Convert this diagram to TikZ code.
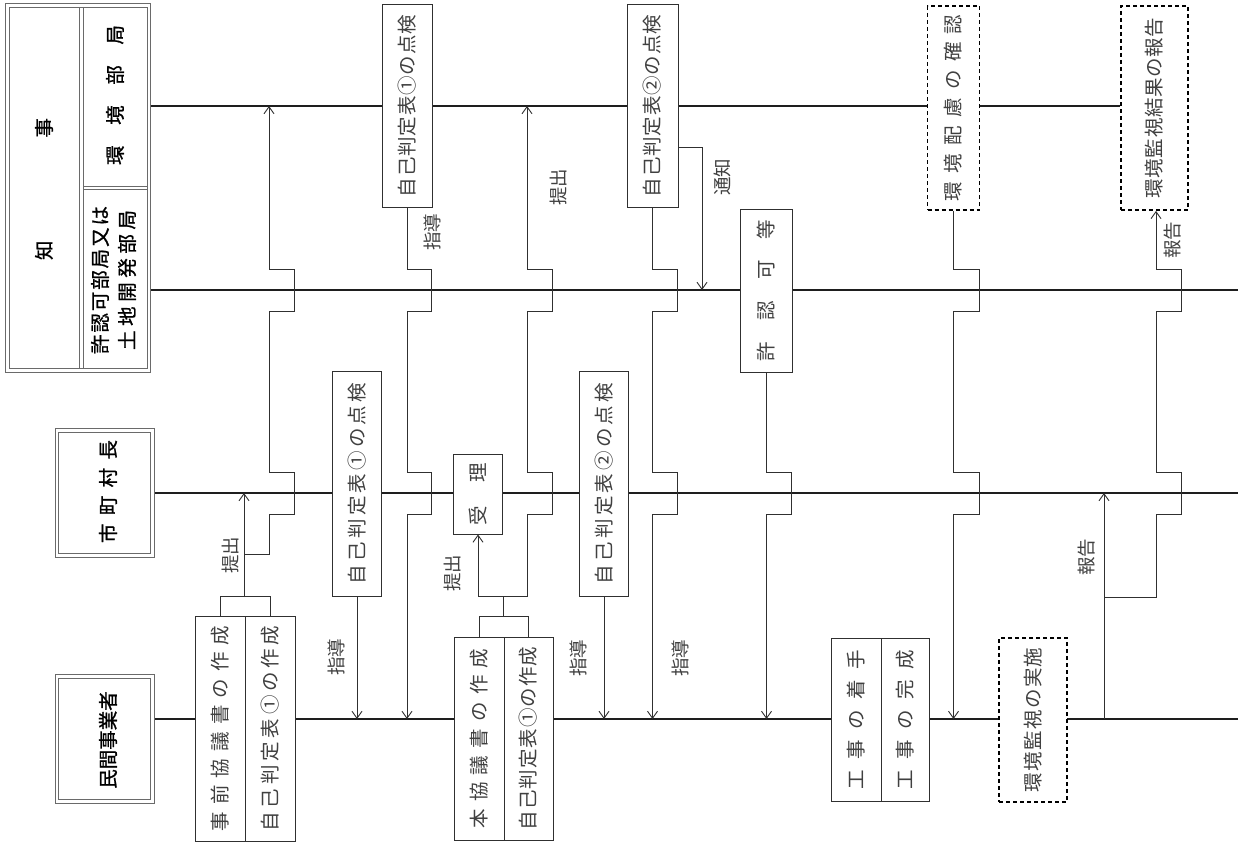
\documentclass[tikz,border=0pt]{standalone}
\usepackage{fontspec}
\usepackage{graphicx}
\setmainfont{Noto Sans CJK JP}
\newfontfamily\hdrfont[FakeBold=1]{Noto Sans CJK JP}
\usetikzlibrary{arrows.meta,backgrounds}
\definecolor{ln}{HTML}{1E1E1E}
\definecolor{cn}{HTML}{303030}
\definecolor{tx}{HTML}{404040}
\definecolor{fr}{HTML}{6A6A6A}
\def\spA#1{\ifx#1\relax\else\hfill#1\expandafter\spA\fi}
\def\spB#1{#1\spA}
\newcommand\spread[2]{\makebox[#1]{\spB#2\relax}}
\newcommand\vt[2]{\rotatebox{90}{\spread{#1}{#2}}}
\begin{document}
\begin{tikzpicture}[x=1pt,y=-1pt,
  lane/.style={draw=ln,line width=1.7pt},
  conn/.style={draw=cn,line width=0.9pt},
  arr/.style={conn,-{Straight Barb[length=7pt,width=10pt]}},
  box/.style={draw=cn,line width=1pt,fill=white,inner sep=0pt,
    font=\fontsize{19.5}{19.5}\selectfont,text=tx},
  dbox/.style={box,draw=black,line width=1.8pt,dash pattern=on 4pt off 3pt},
  hbox/.style={draw=fr,line width=0.8pt,fill=white,inner sep=0pt},
  htxt/.style={inner sep=0pt,font=\hdrfont\fontsize{19.5}{19.5}\selectfont},
  frame/.style={draw=fr,line width=0.8pt},
  lbl/.style={inner sep=0pt,font=\fontsize{18.5}{18.5}\selectfont,text=tx,rotate=90},
]
\useasboundingbox (0,0) rectangle (1238,843);

% ---- header: 知事 ----
\draw[frame] (5,3) rectangle (150,372);
\draw[frame] (9,7) rectangle (147,368);
\draw[frame] (79,7) -- (79,368);
\draw[frame] (83,7) -- (83,368);
\draw[frame] (83,186) -- (147,186);
\draw[frame] (83,189.5) -- (147,189.5);
\node[htxt] (chiji) at (44,189) {\vt{142pt}{知事}};
\node[htxt] (kankyo) at (115,95) {\vt{140pt}{環境部局}};
\node[htxt] (kyoninka) at (113.5,280) {\rotatebox{90}{\vbox{\baselineskip=27pt
  \hbox{\spread{148pt}{許認可部局又は}}\hbox to 148pt{\hfil\spread{140pt}{土地開発部局}\hfil}}}};

% ---- header: 市町村長 / 民間事業者 (double frames) ----
\node[hbox,minimum width=99pt,minimum height=129pt] (shi) at (104.5,492.5) {};
\node[hbox,minimum width=92pt,minimum height=121pt] (shiIn) at (104.5,492.5) {};
\node[htxt] (shiT) at (108,491.5) {\vt{103pt}{市町村長}};
\node[hbox,minimum width=99pt,minimum height=129pt] (min) at (104.5,738.5) {};
\node[hbox,minimum width=92pt,minimum height=121pt] (minIn) at (104.5,738.5) {};
\node[htxt] (minT) at (108,740) {\rotatebox{90}{民間事業者}};

\coordinate (k1) at (150,106);
\coordinate (k2) at (150,290);
\coordinate (k3) at (154,493);
\coordinate (k4) at (154,719);
\coordinate (R) at (1238,0);
\coordinate (L3) at (0,493);
\coordinate (L4) at (0,719);

% ---- lane 1 (環境部局) ----
\node[box,minimum width=50pt,minimum height=202pt] (A1) at (407,106) {\vt{182pt}{自己判定表①の点検}};
\node[box,minimum width=51pt,minimum height=202pt] (B1) at (652.5,106) {\vt{182pt}{自己判定表②の点検}};
\node[dbox,minimum width=52pt,minimum height=204pt] (C1) at (953.5,108) {\vt{187pt}{環境配慮の確認}};
\node[dbox,minimum width=67pt,minimum height=204pt] (D1) at (1154.5,108) {\vt{181pt}{環境監視結果の報告}};

% ---- lane 2 (許認可部局) ----
\node[box,minimum width=52pt,minimum height=163pt] (P2) at (766.5,290.5) {\vt{142pt}{許認可等}};

% ---- lane 3 (市町村長) ----
\node[box,minimum width=49pt,minimum height=225pt] (A3) at (357,483.5) {\vt{201pt}{自己判定表①の点検}};
\node[box,minimum width=49pt,minimum height=80pt] (R3) at (478,494) {\vt{62pt}{受理}};
\node[box,minimum width=49pt,minimum height=225pt] (B3) at (604,483.5) {\vt{201pt}{自己判定表②の点検}};

% ---- lane 4 (民間事業者) ----
\node[box,minimum width=50pt,minimum height=225pt] (S4a) at (220,728.5) {\vt{206pt}{事前協議書の作成}};
\node[box,minimum width=50pt,minimum height=225pt] (S4b) at (270,728.5) {\vt{206pt}{自己判定表①の作成}};
\node[box,minimum width=50pt,minimum height=203pt] (H4a) at (479,738.5) {\vt{180pt}{本協議書の作成}};
\node[box,minimum width=49pt,minimum height=203pt] (H4b) at (528.5,738.5) {\vt{183pt}{自己判定表①の作成}};
\node[box,minimum width=50pt,minimum height=163pt] (K4a) at (856,719.5) {\vt{140pt}{工事の着手}};
\node[box,minimum width=48pt,minimum height=163pt] (K4b) at (905,719.5) {\vt{140pt}{工事の完成}};
\node[dbox,minimum width=68pt,minimum height=164pt] (M4) at (1033,720) {\vt{145pt}{環境監視の実施}};

% ---- labels ----
\node[lbl] (t1) at (230,555) {提出};
\node[lbl] (g1) at (336,657) {指導};
\node[lbl] (g2) at (432,232) {指導};
\node[lbl] (t2) at (452,573) {提出};
\node[lbl] (t3) at (558,187) {提出};
\node[lbl] (g3) at (578,658) {指導};
\node[lbl] (g4) at (680,658) {指導};
\node[lbl] (n1) at (722,177) {通知};
\node[lbl] (h1) at (1087,557) {報告};
\node[lbl] (h2) at (1173,240) {報告};

\begin{scope}[on background layer]
% lanes
\draw[lane] (k1) -- (k1 -| D1.west);
\draw[lane] (k2) -- (k2 -| R);
\draw[lane] (k3) -- (k3 -| R);
\draw[lane] (k4) -- (k4 -| R);

% 事前協議書 -> 市町村長 / 環境部局
\draw[conn] (S4a.north) -- ++(0,-19) -| (S4b.north);
\coordinate (s4m) at (244,597);
\draw[arr] (s4m) -- (s4m |- L3);
\draw[arr] (244,554) -- (269,554) -- (269,514) -- (294,514) -- (294,472) -- (269,472)
  -- (269,311) -- (294,311) -- (294,269) -- (269,269) -- (269,0 |- k1);

% 点検 -> 指導
\draw[arr] (A3.south) -- (A3.south |- L4);
\draw[arr] (A1.south) -- (407,269) -- (431,269) -- (431,311) -- (407,311) -- (407,472)
  -- (431,472) -- (431,514) -- (407,514) -- (407,719);

% 本協議書 -> 受理 / 環境部局
\draw[conn] (H4a.north) -- ++(0,-20) -| (H4b.north);
\coordinate (h4m) at (503.5,596);
\draw[conn] (503.5,617) -- (h4m);
\draw[arr] (h4m) -| (R3.south);
\draw[arr] (h4m) -- (527,596) -- (527,514) -- (552,514) -- (552,472) -- (527,472)
  -- (527,311) -- (552,311) -- (552,269) -- (527,269) -- (527,0 |- k1);

\draw[arr] (B3.south) -- (B3.south |- L4);
\draw[arr] (B1.south) -- (652.5,269) -- (677.5,269) -- (677.5,311) -- (652.5,311) -- (652.5,472)
  -- (677.5,472) -- (677.5,514) -- (652.5,514) -- (652.5,719);
\draw[arr] (B1.east |- 0,147) -- (702,147) -- (702,0 |- k2);

\draw[arr] (P2.south) -- (766.5,472) -- (791,472) -- (791,514) -- (766.5,514) -- (766.5,719);

\draw[arr] (C1.south) -- (953.5,269) -- (979,269) -- (979,311) -- (953.5,311) -- (953.5,472)
  -- (979,472) -- (979,514) -- (953.5,514) -- (953.5,719);

% 環境監視 -> 報告
\coordinate (m4r) at (1104,719);
\draw[arr] (m4r) -- (m4r |- L3);
\draw[arr] (1104,597) -- (1156,597) -- (1156,514) -- (1181,514) -- (1181,472) -- (1156,472)
  -- (1156,311) -- (1181,311) -- (1181,269) -- (1156,269) -- (1156,0 |- D1.south);
\end{scope}
\end{tikzpicture}
\end{document}
